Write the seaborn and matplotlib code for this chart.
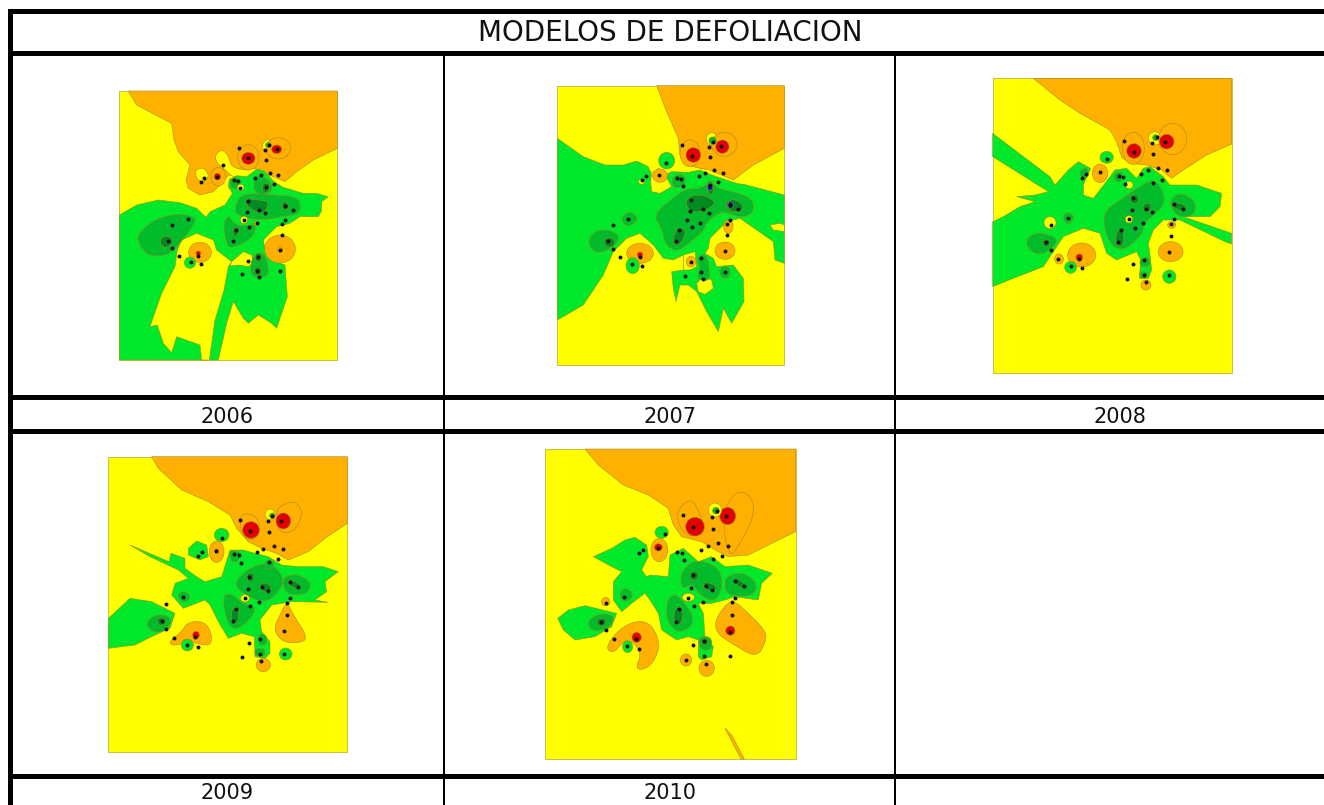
import pandas as pd
import matplotlib
matplotlib.use("Agg")
import matplotlib.pyplot as plt
from matplotlib.patches import Ellipse
import seaborn as sns

sns.set_theme(style="white")
plt.rcParams["font.family"] = ["DejaVu Sans"]

title = "MODELOS DE DEFOLIACION"
years = ["2006", "2007", "2008", "2009", "2010"]

# table rules, in pixels of the page
h_rules = [(9, 14), (51, 56), (395, 400), (429, 434), (774, 779)]
v_rules = [(8, 13), (443, 445), (894, 896)]

# crop window of each map on the page (x, y, w, h), outlines below are in 3x crop units
p1_crop = (100, 80, 260, 290)
p2_crop = (540, 75, 260, 300)
p3_crop = (980, 70, 265, 310)
p4_crop = (95, 445, 265, 315)
p5_crop = (535, 440, 270, 330)

p1_frame = (58, 33, 712, 840)
p2_frame = (52, 32, 733, 870)
p3_frame = (38, 25, 755, 908)
p4_frame = (40, 35, 757, 920)
p5_frame = (30, 27, 782, 957)

# sampling sites, read on the 2006 map
site_x = [417, 445, 495, 507, 530, 497, 510, 535, 370, 352, 313, 303, 465, 482, 403, 415, 497, 521, 420, 443,
          478, 495, 440, 555, 578, 555, 547, 547, 432, 470, 447, 408, 400, 205, 217, 217, 263, 238, 295, 273,
          303, 540, 443, 473, 472, 477, 425, 540]
site_y = [205, 235, 210, 195, 208, 240, 278, 285, 255, 290, 295, 305, 295, 285, 300, 303, 320, 312, 323, 362,
          390, 400, 395, 377, 390, 420, 432, 465, 420, 430, 442, 450, 483, 483, 505, 435, 417, 528, 527, 547,
          553, 510, 543, 532, 572, 592, 582, 572]

# 2006
p1_orange = [[(85, 33), (712, 33), (712, 205), (640, 240), (590, 275), (555, 305), (520, 290), (470, 268), (440, 290),
              (385, 285), (365, 310), (340, 335), (300, 345), (265, 325), (258, 300), (270, 255), (235, 215),
              (222, 180), (215, 130), (110, 75)]]
p1_holes = [[(285, 270), (310, 262), (328, 285), (315, 305), (290, 300)],
            [(345, 225), (365, 208), (385, 225), (395, 262), (440, 272), (470, 262), (470, 290), (400, 295), (372, 265), (350, 250)],
            [(487, 190), (505, 175), (520, 195), (505, 215), (488, 210)]]
p1_green = [[(58, 405), (110, 375), (175, 360), (240, 368), (290, 385), (318, 412), (330, 395), (375, 375), (397, 340),
             (385, 320), (388, 298), (410, 287), (440, 290), (470, 268), (492, 272), (522, 305), (550, 322), (610, 340),
             (650, 340), (685, 350), (665, 365), (665, 392), (655, 410), (600, 410), (570, 430), (530, 440), (490, 480),
             (495, 508), (515, 540), (555, 555), (562, 650), (530, 745), (515, 730), (475, 705), (445, 730), (430, 715),
             (400, 665), (380, 730), (355, 840), (58, 840)]]
p1_yellow = [[(245, 480), (290, 460), (340, 480), (350, 510), (395, 545), (385, 560), (372, 630), (345, 720), (328, 840),
              (305, 840), (300, 795), (230, 770), (215, 818), (190, 790), (172, 735), (150, 740), (185, 640), (225, 560), (232, 510)],
             [(395, 545), (430, 515), (455, 525), (460, 550), (445, 560), (420, 555), (390, 558)]]
p1_mid = [[(110, 465), (160, 420), (230, 400), (285, 410), (285, 430), (240, 490), (205, 525), (150, 530), (120, 500)],
          [(405, 385), (420, 345), (470, 340), (520, 345), (590, 350), (605, 380), (590, 405), (540, 410), (500, 420), (440, 415), (405, 400)],
          [(370, 430), (385, 405), (400, 430), (430, 440), (470, 430), (460, 470), (420, 495), (385, 505), (375, 470)],
          [(455, 530), (490, 515), (505, 555), (505, 585), (480, 595), (450, 585)],
          [(390, 295), (420, 292), (415, 325), (390, 325)],
          [(465, 290), (480, 285), (520, 310), (510, 345), (460, 340)]]
p1_dark = [[(435, 355), (475, 360), (510, 365), (490, 405), (440, 380)],
           [(180, 475), (205, 465), (222, 485), (200, 505), (182, 495)],
           [(400, 440), (420, 445), (410, 470), (398, 465)],
           [(545, 365), (565, 368), (565, 388), (548, 388)],
           [(487, 310), (510, 310), (505, 338), (487, 335)],
           [(465, 520), (485, 520), (483, 545), (467, 545)],
           [(462, 562), (485, 562), (483, 585), (465, 585)]]
# x, y, radius, colour code: o orange, y yellow, g green, m mid green, d dark green, r red, b blue
p1_blobs = [(540, 507, 46, 42, "o"), (300, 517, 34, 30, "o"), (270, 548, 17, 17, "g"), (445, 232, 32, 38, "o"), (535, 205, 36, 32, "o"),
            (355, 290, 22, 28, "o"), (445, 235, 20, 18, "r"), (530, 208, 15, 13, "r"), (352, 290, 10, 10, "r"), (505, 195, 8, 8, "m"),
            (422, 323, 10, 10, "y"), (432, 420, 11, 11, "y"), (470, 430, 7, 7, "o"), (540, 508, 8, 8, "o"), (295, 520, 7, 7, "r")]

# 2007
p2_orange = [[(350, 32), (733, 32), (733, 220), (640, 270), (580, 315), (545, 300), (510, 285), (480, 280), (440, 270), (420, 240), (415, 190), (380, 110)]]
p2_holes = [[(498, 180), (520, 170), (540, 190), (525, 215), (500, 205)]]
p2_green = [[(52, 190), (130, 245), (195, 270), (250, 270), (290, 258), (325, 275), (335, 300), (355, 280), (375, 300), (395, 290), (445, 292),
             (480, 285), (515, 300), (590, 325), (620, 330), (733, 360), (733, 565), (705, 555), (700, 500), (650, 465), (600, 430), (560, 440),
             (510, 490), (505, 520), (495, 535), (520, 550), (530, 575), (580, 570), (610, 610), (612, 680), (575, 745), (550, 700), (535, 770),
             (500, 710), (470, 650), (445, 630), (420, 630), (408, 680), (400, 640), (395, 590), (430, 585), (430, 540), (400, 555), (370, 550),
             (340, 510), (300, 475), (260, 490), (220, 530), (190, 600), (130, 690), (52, 735)]]
p2_yellow = [[(690, 450), (720, 445), (733, 450), (733, 470), (700, 465)],
             [(335, 290), (375, 300), (395, 335), (360, 355), (335, 350), (332, 320)],
             [(470, 625), (490, 605), (515, 615), (520, 640), (495, 658), (475, 650)],
             [(430, 540), (465, 530), (470, 575), (450, 585), (430, 585)]]
p2_mid = [[(340, 420), (390, 375), (440, 340), (490, 340), (510, 310), (530, 340), (600, 355), (640, 375), (640, 415), (600, 430), (550, 405), (500, 440), (490, 470), (440, 510), (410, 530), (375, 510), (365, 460)],
          [(145, 490), (175, 462), (225, 470), (240, 490), (215, 520), (175, 535), (150, 520)],
          [(245, 425), (270, 408), (298, 430), (270, 455), (248, 445)],
          [(470, 545), (500, 535), (510, 590), (505, 620), (470, 610), (480, 575)],
          [(395, 310), (420, 295), (440, 310), (430, 335), (400, 340)]]
p2_dark = [[(435, 380), (455, 360), (500, 362), (530, 385), (490, 410), (450, 410)],
           [(400, 480), (420, 455), (440, 470), (420, 510), (400, 510)],
           [(555, 385), (580, 370), (610, 390), (605, 410), (570, 410)],
           [(500, 335), (512, 320), (525, 340), (510, 365)]]
p2_blobs = [(380, 257, 24, 25, "g"), (555, 527, 30, 26, "o"), (565, 455, 14, 20, "o"), (360, 302, 22, 20, "o"), (300, 535, 40, 30, "o"), (278, 572, 20, 24, "g"),
            (453, 560, 14, 16, "o"), (555, 592, 16, 18, "m"), (450, 235, 30, 40, "o"), (553, 208, 38, 36, "o"), (460, 240, 22, 22, "r"), (547, 215, 20, 20, "r"),
            (518, 197, 11, 11, "m"), (300, 540, 8, 9, "r"), (208, 502, 16, 14, "d"), (510, 337, 8, 9, "b"), (572, 390, 8, 10, "b"), (305, 320, 9, 8, "y")]

# 2008
p3_orange = [[(160, 25), (755, 25), (755, 222), (680, 255), (610, 300), (575, 325), (545, 300), (500, 285), (450, 280), (425, 262), (410, 215), (390, 180), (300, 130), (240, 90)]]
p3_holes = []
p3_green = [[(38, 190), (210, 320), (225, 345), (265, 300), (295, 275), (332, 295), (310, 345), (310, 375), (340, 385), (375, 340), (405, 300), (440, 295), (470, 325), (490, 295),
             (510, 290), (550, 320), (570, 345), (650, 345), (725, 370), (720, 410), (690, 440), (610, 440), (755, 490), (755, 522), (735, 515), (600, 450), (550, 450), (520, 480),
             (505, 520), (510, 555), (515, 600), (505, 625), (478, 625), (482, 570), (470, 545), (410, 570), (380, 550), (360, 490), (310, 475), (250, 500), (190, 590), (100, 625),
             (38, 650), (38, 455), (70, 440), (120, 410), (165, 395), (110, 380), (165, 375), (205, 365), (38, 260)]]
p3_yellow = []
p3_mid = [[(365, 430), (420, 390), (500, 335), (530, 330), (560, 390), (530, 430), (490, 460), (490, 490), (430, 545), (385, 520)],
          [(565, 395), (600, 365), (650, 395), (640, 440), (590, 440)],
          [(135, 510), (170, 485), (225, 500), (232, 520), (190, 555), (150, 545)],
          [(245, 440), (265, 425), (285, 440), (265, 468)],
          [(480, 565), (508, 560), (510, 590), (480, 590)],
          [(480, 605), (505, 605), (500, 625), (480, 625)],
          [(295, 305), (320, 290), (328, 315), (310, 330)],
          [(400, 310), (430, 305), (425, 335), (405, 335)]]
p3_dark = [[(410, 480), (432, 480), (430, 530), (405, 525)],
           [(450, 375), (475, 375), (475, 400), (452, 400)],
           [(490, 400), (515, 400), (510, 425), (490, 425)],
           [(575, 395), (620, 405), (610, 425), (575, 410)],
           [(185, 510), (212, 510), (205, 530), (190, 530)]]
p3_blobs = [(525, 205, 20, 20, "y"), (448, 345, 11, 11, "y"), (447, 448, 11, 11, "y"), (210, 458, 18, 18, "y"), (360, 310, 23, 28, "o"), (305, 555, 42, 36, "o"), (237, 567, 13, 15, "o"),
            (572, 545, 37, 30, "o"), (575, 465, 12, 10, "o"), (498, 645, 15, 15, "o"), (380, 262, 20, 18, "g"), (272, 592, 18, 18, "g"), (568, 620, 20, 20, "g"),
            (460, 235, 33, 48, "o"), (578, 207, 42, 47, "o"), (462, 243, 22, 22, "r"), (560, 215, 22, 22, "r"), (298, 562, 10, 10, "r"), (527, 203, 9, 9, "m")]

# 2009
p4_orange = [[(170, 35), (757, 35), (757, 235), (690, 280), (640, 320), (580, 345), (545, 325), (500, 310), (460, 290), (425, 250), (405, 210), (340, 170), (260, 135), (190, 70)]]
p4_holes = []
p4_green = [[(105, 300), (222, 350), (228, 325), (270, 340), (270, 370), (305, 395), (330, 410), (380, 395), (405, 315), (445, 315), (480, 325), (520, 335), (560, 360), (610, 365),
             (685, 365), (730, 380), (690, 410), (695, 440), (660, 465), (700, 472), (590, 470), (530, 480), (495, 525), (500, 560), (525, 590), (525, 625), (510, 640), (480, 635),
             (478, 575), (440, 565), (400, 580), (370, 530), (345, 480), (330, 465), (265, 490), (230, 450), (240, 415), (280, 400), (250, 375), (165, 335)],
            [(40, 520), (105, 460), (170, 470), (240, 505), (225, 550), (180, 570), (120, 600), (40, 610)],
            [(280, 310), (305, 288), (335, 300), (340, 335), (315, 345), (280, 330)]]
p4_yellow = []
p4_mid = [[(420, 410), (460, 370), (520, 350), (565, 390), (560, 430), (520, 470), (480, 465), (430, 435)],
          [(560, 400), (600, 385), (650, 410), (640, 445), (595, 450), (570, 440)],
          [(380, 450), (410, 445), (440, 475), (490, 490), (440, 550), (400, 550)],
          [(150, 530), (190, 505), (235, 520), (210, 560), (170, 562)],
          [(245, 455), (265, 435), (290, 455), (270, 475)],
          [(490, 565), (515, 570), (515, 600), (490, 600)],
          [(480, 610), (510, 610), (510, 635), (480, 635)],
          [(400, 315), (440, 320), (430, 350), (410, 352)],
          [(510, 345), (540, 350), (530, 375), (510, 370)]]
p4_dark = [[(455, 385), (478, 385), (475, 410), (458, 410)],
           [(495, 412), (530, 420), (525, 445), (495, 435)],
           [(410, 490), (432, 485), (430, 535), (408, 530)],
           [(580, 400), (620, 420), (610, 435), (580, 420)],
           [(185, 518), (215, 520), (208, 540), (190, 540)]]
p4_extra = [[(440, 205), (480, 210), (500, 250), (480, 285), (445, 280), (435, 240)],
            [(550, 185), (600, 165), (625, 205), (600, 255), (570, 265), (548, 250), (545, 215)],
            [(222, 590), (260, 560), (280, 530), (330, 530), (352, 570), (345, 605), (290, 590), (245, 600), (230, 600)],
            [(575, 470), (595, 510), (640, 580), (610, 595), (560, 590), (535, 550), (560, 500)]]
p4_blobs = [(380, 270, 22, 20, "g"), (277, 600, 18, 18, "g"), (572, 627, 19, 18, "g"), (450, 460, 13, 11, "y"),
            (365, 320, 22, 32, "o"), (505, 660, 21, 20, "o"),
            (468, 255, 25, 25, "r"), (565, 228, 22, 24, "r"), (303, 570, 10, 11, "r"), (365, 318, 6, 6, "r"),
            (525, 208, 15, 16, "y"), (532, 212, 8, 8, "m")]

# 2010
p5_orange = [[(150, 27), (782, 27), (782, 275), (720, 305), (680, 325), (640, 345), (580, 350), (540, 330), (500, 305), (440, 290), (415, 255), (400, 205), (340, 165), (265, 135), (190, 75)],
             [(570, 865), (590, 885), (628, 957), (618, 957)]]
p5_holes = []
p5_green = [[(175, 350), (230, 325), (270, 300), (300, 292), (335, 315), (340, 350), (320, 390), (335, 410), (345, 405), (400, 410), (405, 345), (445, 325), (490, 365), (530, 350), (570, 380),
             (640, 375), (712, 400), (680, 430), (670, 480), (600, 470), (570, 480), (530, 490), (490, 490), (505, 520), (510, 590), (535, 620), (530, 650), (500, 660), (490, 650), (490, 600),
             (460, 590), (425, 600), (380, 570), (370, 520), (345, 480), (330, 460), (290, 490), (260, 515), (235, 480), (235, 425), (260, 395), (230, 380)],
            [(68, 535), (100, 510), (150, 497), (245, 520), (230, 560), (180, 590), (120, 600), (85, 570)]]
p5_yellow = []
p5_mid = [[(435, 400), (475, 360), (530, 370), (560, 400), (560, 450), (540, 485), (500, 470), (470, 430), (440, 450)],
          [(570, 410), (620, 395), (665, 425), (660, 465), (600, 470), (570, 455)],
          [(395, 480), (420, 460), (450, 490), (475, 530), (470, 560), (430, 580), (395, 545)],
          [(155, 545), (190, 520), (240, 525), (225, 565), (170, 575)],
          [(250, 465), (270, 440), (300, 465), (270, 490)],
          [(490, 590), (530, 590), (530, 630), (495, 630)]]
p5_dark = [[(465, 395), (490, 395), (488, 420), (465, 420)],
           [(505, 425), (545, 435), (540, 458), (505, 445)],
           [(420, 500), (445, 505), (440, 555), (415, 550)],
           [(598, 410), (635, 435), (625, 448), (598, 430)],
           [(185, 535), (215, 535), (210, 558), (188, 558)],
           [(500, 595), (520, 595), (518, 615), (500, 615)]]
p5_extra = [[(212, 625), (240, 580), (290, 545), (340, 545), (370, 590), (370, 640), (340, 685), (300, 690), (320, 640), (290, 600), (260, 610), (235, 640)],
            [(540, 540), (575, 490), (600, 485), (630, 510), (690, 570), (695, 600), (665, 655), (590, 610), (545, 580)],
            [(435, 200), (470, 175), (495, 220), (510, 275), (480, 290), (445, 280), (425, 235)],
            [(570, 200), (610, 148), (655, 175), (655, 235), (620, 300), (590, 350), (575, 320), (565, 255)]]
p5_blobs = [(380, 277, 20, 18, "g"), (278, 620, 15, 18, "g"), (373, 330, 25, 35, "o"), (212, 485, 12, 13, "o"), (453, 660, 17, 18, "o"), (515, 685, 23, 24, "o"), (460, 472, 18, 12, "y"),
            (480, 260, 28, 28, "r"), (578, 228, 24, 26, "r"), (370, 322, 12, 11, "r"), (305, 592, 14, 15, "r"), (586, 572, 14, 14, "r"),
            (540, 210, 20, 21, "y"), (543, 212, 10, 10, "m")]

palette = {"y": "#ffff00", "o": "#ffb000", "g": "#00e82a", "m": "#00bc2a", "d": "#008a22", "r": "#e40000", "b": "#1010c0"}
edge = "#a08c20"


def rounded(shape):
    # corner cutting so the contour outlines do not look angular
    out = []
    for i, (x, y) in enumerate(shape):
        nx, ny = shape[(i + 1) % len(shape)]
        out.append((0.75 * x + 0.25 * nx, 0.75 * y + 0.25 * ny))
        out.append((0.25 * x + 0.75 * nx, 0.25 * y + 0.75 * ny))
    return out


def fill_all(ax, shapes, key, smooth=False):
    for s in shapes:
        if smooth:
            s = rounded(rounded(s))
        xs, ys = zip(*s)
        ax.fill(xs, ys, facecolor=palette[key], edgecolor=edge, linewidth=0.4)


def draw_map(crop, frame, orange, holes, green, yellow, mid, dark, blobs, extra=None):
    x, y, w, h = crop
    ax = fig.add_axes([x / 1324, 1 - (y + h) / 805, w / 1324, h / 805])
    ax.set_xlim(0, w * 3)
    ax.set_ylim(h * 3, 0)
    ax.axis("off")
    x0, y0, x1, y1 = frame
    fill_all(ax, [[(x0, y0), (x1, y0), (x1, y1), (x0, y1)]], "y")
    fill_all(ax, orange, "o")
    fill_all(ax, holes, "y", smooth=True)
    fill_all(ax, green, "g")
    fill_all(ax, yellow, "y")
    if extra:
        fill_all(ax, extra, "o", smooth=True)
    fill_all(ax, mid, "m", smooth=True)
    fill_all(ax, dark, "d", smooth=True)
    for bx, by, rx, ry, key in blobs:
        ax.add_patch(Ellipse((bx, by), 2 * rx, 2 * ry, facecolor=palette[key], edgecolor=edge, linewidth=0.4))
    # sites scaled from the 2006 map frame
    sx = (x1 - x0) / (p1_frame[2] - p1_frame[0])
    sy = (y1 - y0) / (p1_frame[3] - p1_frame[1])
    sites = pd.DataFrame({"x": [x0 + (v - p1_frame[0]) * sx for v in site_x],
                          "y": [y0 + (v - p1_frame[1]) * sy for v in site_y]})
    sns.scatterplot(data=sites, x="x", y="y", color="#101010", s=8, linewidth=0, ax=ax, legend=False)
    ax.set_xlabel("")
    ax.set_ylabel("")


fig = plt.figure(figsize=(13.24, 8.05), dpi=100)
page = fig.add_axes([0, 0, 1, 1])
page.set_xlim(0, 1324)
page.set_ylim(805, 0)
page.axis("off")
for top, bottom in h_rules:
    page.axhspan(top, bottom, xmin=8 / 1324, color="black", linewidth=0)
for left, right in v_rules[:1]:
    page.axvspan(left, right, ymin=0, ymax=1 - 9 / 805, color="black", linewidth=0)
for left, right in v_rules[1:]:
    page.axvspan(left, right, ymin=0, ymax=1 - 54 / 805, color="black", linewidth=0)

page.text(670, 33, title, ha="center", va="center", fontsize=20, color="#111111")
year_x = [227, 670, 1120, 227, 670]
year_y = [417, 417, 417, 793, 793]
for label, tx, ty in zip(years, year_x, year_y):
    page.text(tx, ty, label, ha="center", va="center", fontsize=15, color="#111111")

draw_map(p1_crop, p1_frame, p1_orange, p1_holes, p1_green, p1_yellow, p1_mid, p1_dark, p1_blobs)
draw_map(p2_crop, p2_frame, p2_orange, p2_holes, p2_green, p2_yellow, p2_mid, p2_dark, p2_blobs)
draw_map(p3_crop, p3_frame, p3_orange, p3_holes, p3_green, p3_yellow, p3_mid, p3_dark, p3_blobs)
draw_map(p4_crop, p4_frame, p4_orange, p4_holes, p4_green, p4_yellow, p4_mid, p4_dark, p4_blobs, p4_extra)
draw_map(p5_crop, p5_frame, p5_orange, p5_holes, p5_green, p5_yellow, p5_mid, p5_dark, p5_blobs, p5_extra)

fig.savefig("out.png", dpi=100)
